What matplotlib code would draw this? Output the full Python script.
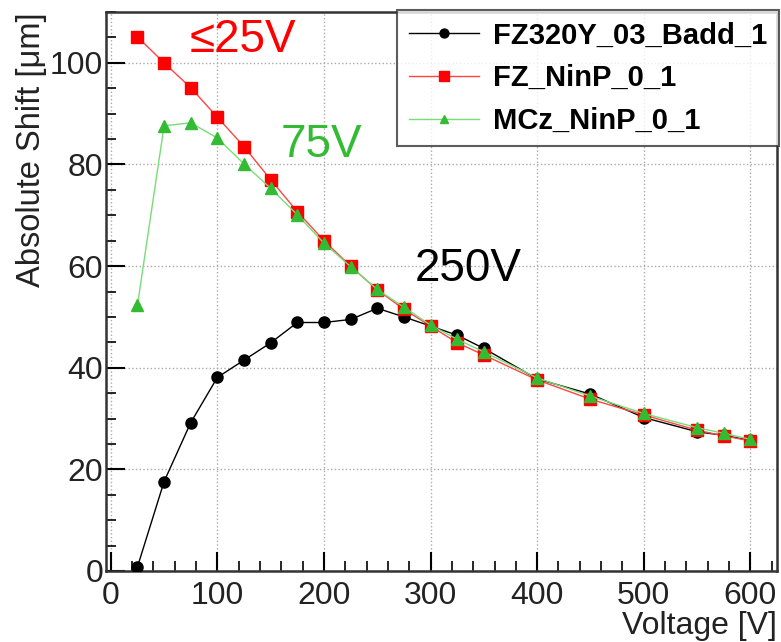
import matplotlib.pyplot as plt
from matplotlib.ticker import MultipleLocator

plt.rcParams['font.family'] = ['Liberation Sans', 'DejaVu Sans']

# voltages [V]
voltage = [25, 50, 75, 100, 125, 150, 175, 200, 225, 250, 275, 300,
           325, 350, 400, 450, 500, 550, 575, 600]

# absolute shift [um]
fz320y = [0.8, 17.6, 29.2, 38.1, 41.5, 44.9, 48.9, 48.9, 49.5, 51.7, 50.0, 48.2,
          46.4, 43.8, 37.8, 34.8, 30.2, 27.4, 26.7, 25.7]
fz_ninp = [105.1, 100.0, 95.1, 89.3, 83.5, 77.0, 70.7, 65.0, 60.0, 55.3, 51.5, 48.2,
           44.9, 42.5, 37.6, 33.8, 30.7, 27.7, 26.6, 25.6]
mcz_ninp = [52.3, 87.6, 88.2, 85.2, 80.1, 75.3, 70.1, 64.5, 59.9, 55.4, 51.9, 48.4,
            45.6, 43.1, 38.0, 34.4, 31.0, 28.2, 27.1, 25.9]

labels = ['FZ320Y_03_Badd_1', 'FZ_NinP_0_1', 'MCz_NinP_0_1']

fig = plt.figure(figsize=(7.81, 6.42), dpi=100)
ax = fig.add_axes([106/781, 1 - 571/642, (777-106)/781, (571-12)/642])

ax.plot(voltage, fz320y, color='black', lw=1, marker='o', ms=8, label=labels[0], zorder=3)
ax.plot(voltage, fz_ninp, color='#ff4444', lw=1, marker='s', ms=9,
        mfc='red', mec='red', label=labels[1], zorder=4)
ax.plot(voltage, mcz_ninp, color='#77dd77', lw=1, marker='^', ms=8,
        mfc='#33bb33', mec='#33bb33', label=labels[2], zorder=5)

ax.set_xlim(-4.5, 625)
ax.set_ylim(0, 110)
ax.xaxis.set_major_locator(MultipleLocator(100))
ax.xaxis.set_minor_locator(MultipleLocator(20))
ax.yaxis.set_major_locator(MultipleLocator(20))
ax.yaxis.set_minor_locator(MultipleLocator(5))
ax.tick_params(which='major', direction='in', length=14, width=1.5, labelsize=23,
               labelcolor='#222222')
ax.tick_params(which='minor', direction='in', length=7, width=1.2)
ax.tick_params(axis='x', pad=7)
ax.tick_params(axis='y', pad=2)
ax.grid(True, which='major', ls=':', color='#aaaaaa', lw=1)
for s in ax.spines.values():
    s.set_linewidth(1.8)
    s.set_color('#333333')

ax.set_xlabel('Voltage [V]', fontsize=23, loc='right', color='#222222', labelpad=0)
ax.set_ylabel('Absolute Shift [\u03bcm]', fontsize=23.5, loc='top', color='#222222', labelpad=2)

ax.text(74, 104.5, '\u226425V', color='red', fontsize=33, va='center')
ax.text(159, 83.8, '75V', color='#33bb33', fontsize=33, va='center')
ax.text(285, 59.5, '250V', color='black', fontsize=33, va='center')

leg = ax.legend(loc='upper left', bbox_to_anchor=(397/781, 1 - 10/642),
                bbox_transform=fig.transFigure,
                prop={'weight': 'bold', 'size': 21}, frameon=True, fancybox=False,
                handlelength=2.4, handletextpad=0.5, borderaxespad=0, labelspacing=0.5,
                markerscale=0.8, borderpad=0.4)
leg.get_frame().set_edgecolor('#333333')
leg.get_frame().set_linewidth(1.5)

fig.savefig('out.png', dpi=100)
